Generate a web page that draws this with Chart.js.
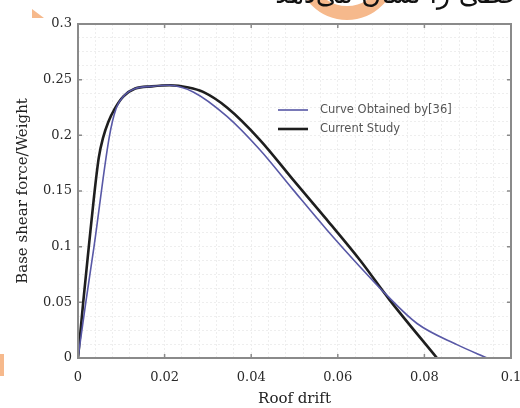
<!DOCTYPE html>
<html>
<head>
<meta charset="utf-8">
<script src="https://cdn.jsdelivr.net/npm/chart.js@4.4.0/dist/chart.umd.min.js"></script>
<style>
  html, body { margin: 0; padding: 0; background: #fff; }
  #wrap { position: relative; width: 520px; height: 408px; overflow: hidden; }
  #Scheme { position: absolute; left: 0; top: 0; }
  .caption { position: absolute; right: 0px; top: -22px; font: 27px "DejaVu Sans", sans-serif; color: #111; direction: rtl; white-space: nowrap; z-index: 2; }
  .ring { position: absolute; left: 297px; top: -80px; width: 72px; height: 72px; border: 14px solid #f6b98c; border-radius: 50%; z-index: 1; }
  .tri { position: absolute; left: 32px; top: 9px; width: 12px; height: 9px; background: #f6b98c; clip-path: polygon(0 0, 100% 100%, 0 100%); }
  .bar { position: absolute; left: 0; top: 354px; width: 4px; height: 22px; background: #f6b98c; }
</style>
</head>
<body>
<div id="wrap">
  <div class="ring"></div>
  <div class="caption">خطی را نشان می‌دهد</div>
  <div class="tri"></div>
  <div class="bar"></div>
  <canvas id="Scheme" width="520" height="408"></canvas>
</div>
<script>
// Curve Obtained by[36]
let refDrift = [0, 0.0018, 0.0037, 0.0072, 0.0088, 0.0105, 0.0132, 0.017, 0.021, 0.0266, 0.0344, 0.042, 0.0497, 0.0575, 0.0651, 0.0709, 0.0783, 0.0875, 0.0945],
    refShear = [0, 0.05, 0.1, 0.198, 0.224, 0.235, 0.242, 0.244, 0.245, 0.239, 0.217, 0.187, 0.151, 0.115, 0.082, 0.058, 0.031, 0.012, 0],
    // Current Study
    curDrift = [0, 0.0012, 0.0025, 0.0037, 0.0048, 0.0058, 0.007, 0.0085, 0.0105, 0.0132, 0.017, 0.0212, 0.0255, 0.0289, 0.0344, 0.042, 0.0497, 0.0575, 0.0651, 0.072, 0.0829],
    curShear = [0, 0.05, 0.1, 0.145, 0.18, 0.198, 0.212, 0.224, 0.235, 0.242, 0.244, 0.245, 0.243, 0.239, 0.225, 0.196, 0.160, 0.124, 0.088, 0.052, 0],
    labels = ['Curve Obtained by[36]', 'Current Study'],
    colors = ['#5858a6', '#1e1e1e'],
    widths = [1.6, 2.6],
    xTicks = [0, 0.02, 0.04, 0.06, 0.08, 0.1],
    yTicks = [0, 0.05, 0.1, 0.15, 0.2, 0.25, 0.3];

function toPoints(xs, ys) {
    return xs.map(function (x, i) { return {x: x, y: ys[i]}; });
}

function isMajor(v, list) {
    return list.some(function (t) { return Math.abs(v - t) < 1e-7; });
}

const serif = "'DejaVu Serif', 'Liberation Serif', serif";

// frame, inward tick marks and the legend
const frame = {
    id: 'frame',
    afterDatasetsDraw(chart) {
        const c = chart.ctx, a = chart.chartArea, sx = chart.scales.x, sy = chart.scales.y;
        c.save();
        c.strokeStyle = '#8a8a8a';
        c.lineWidth = 1.5;
        xTicks.forEach(function (t) {
            let px = sx.getPixelForValue(t);
            c.beginPath();
            c.moveTo(px, a.bottom); c.lineTo(px, a.bottom - 4);
            c.moveTo(px, a.top); c.lineTo(px, a.top + 4);
            c.stroke();
        });
        yTicks.forEach(function (t) {
            let py = sy.getPixelForValue(t);
            c.beginPath();
            c.moveTo(a.left, py); c.lineTo(a.left + 4, py);
            c.moveTo(a.right, py); c.lineTo(a.right - 4, py);
            c.stroke();
        });
        c.lineWidth = 2;
        c.strokeRect(a.left, a.top, a.right - a.left, a.bottom - a.top);

        // legend
        c.font = "11.5px 'DejaVu Sans', sans-serif";
        c.textBaseline = 'middle';
        labels.forEach(function (l, i) {
            let y = 110 + i * 19;
            c.strokeStyle = colors[i];
            c.lineWidth = widths[i];
            c.beginPath();
            c.moveTo(278, y); c.lineTo(308, y);
            c.stroke();
            c.fillStyle = '#555';
            c.fillText(l, 320, y);
        });
        c.restore();
    }
};

const ctx = document.getElementById('Scheme').getContext('2d');
const chart = new Chart(ctx, {
    type: 'line',
    data: {
        datasets: [
            { label: labels[0], data: toPoints(refDrift, refShear), borderColor: colors[0], borderWidth: widths[0], pointRadius: 0, cubicInterpolationMode: 'monotone', fill: false },
            { label: labels[1], data: toPoints(curDrift, curShear), borderColor: colors[1], borderWidth: widths[1], pointRadius: 0, cubicInterpolationMode: 'monotone', fill: false }
        ]
    },
    options: {
        responsive: false,
        animation: false,
        layout: { padding: { top: 24, right: 0, left: 0, bottom: 0 } },
        plugins: { legend: { display: false }, tooltip: { enabled: false } },
        scales: {
            x: {
                type: 'linear', min: 0, max: 0.1,
                afterFit: function (s) { s.height = 50; s.paddingRight = 9; s.paddingLeft = 0; },
                grid: { color: '#eeeeee', lineWidth: 1, drawTicks: false },
                border: { display: false, dash: [2, 2] },
                ticks: {
                    stepSize: 0.004, autoSkip: false, maxRotation: 0, padding: 12,
                    color: '#2a2a2a', font: { family: serif, size: 13 },
                    callback: function (v) { return isMajor(v, xTicks) ? String(+v.toFixed(3)) : ''; }
                },
                title: { display: true, text: 'Roof drift', color: '#222', font: { family: serif, size: 15 }, padding: { top: 0, bottom: 0 } }
            },
            y: {
                type: 'linear', min: 0, max: 0.3,
                afterFit: function (s) { s.width = 78; },
                grid: { color: '#eeeeee', lineWidth: 1, drawTicks: false },
                border: { display: false, dash: [2, 2] },
                ticks: {
                    stepSize: 0.0125, autoSkip: false, padding: 6,
                    color: '#2a2a2a', font: { family: serif, size: 13 },
                    callback: function (v) { return isMajor(v, yTicks) ? String(+v.toFixed(3)) : ''; }
                },
                title: { display: true, text: 'Base shear force/Weight', color: '#222', font: { family: serif, size: 15 }, padding: { top: 14, bottom: 0 } }
            }
        }
    },
    plugins: [frame]
});
</script>
</body>
</html>
